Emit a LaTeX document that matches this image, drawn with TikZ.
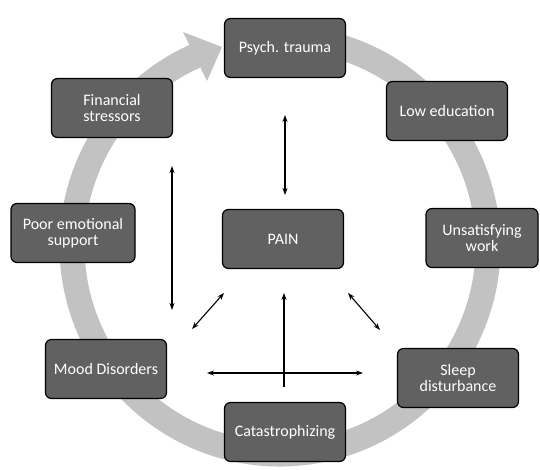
\documentclass[tikz,border=0pt]{standalone}
\usepackage{fontspec}
\setmainfont{Carlito}
\usetikzlibrary{arrows.meta}
\begin{document}
\begin{tikzpicture}[x=1pt,y=-1pt,
  factor/.style={draw=black,line width=1.2pt,fill=black!62,rounded corners=6pt,
    minimum width=121pt,minimum height=59pt,text=white,align=center,
    font=\fontsize{16}{16}\selectfont,inner sep=2pt},
  link/.style={black,line width=1.1pt},
  tipboth/.style={link,{Stealth[length=7pt,width=5pt]}-{Stealth[length=7pt,width=5pt]}},
  tipend/.style={link,-{Stealth[length=7pt,width=5pt]}},
  ring/.style={draw=black!24,line width=25pt},
  ringhead/.style={fill=black!24,draw=none}]
\useasboundingbox (0,0) rectangle (540,469);
\coordinate (c) at (280,246);
% cycle ring
\draw[ring] (c) ++(262:208) arc[start angle=262,end angle=606,radius=208];
\fill[ringhead] (183,32) -- (222,47) -- (207,81) -- cycle;
% boxes
\node[factor] (psych) at (285,48) {Psych. trauma};
\node[factor] (lowed) at (447,111) {Low education};
\node[factor,minimum width=112pt] (work) at (482,238) {Unsatisfying\\work};
\node[factor] (sleep) at (458,378) {Sleep\\disturbance};
\node[factor] (cata) at (285,432) {Catastrophizing};
\node[factor] (mood) at (106,369) {Mood Disorders};
\node[factor,minimum width=124pt] (poor) at (73,233) {Poor emotional\\support};
\node[factor] (fin) at (112,108) {Financial\\stressors};
\node[factor] (pain) at (283,239) {PAIN};
% arrow end points
\coordinate (a1) at (285,115);
\coordinate (a2) at (285,195);
\coordinate (b1) at (172,166);
\coordinate (b2) at (172,310);
\coordinate (d1) at (192,329);
\coordinate (d2) at (224,293);
\coordinate (e1) at (348,293);
\coordinate (e2) at (380,330);
\coordinate (f1) at (284,387);
\coordinate (f2) at (284,293);
\coordinate (g1) at (207,373);
\coordinate (g2) at (363,373);
\draw[tipboth] (a1) -- (a2);
\draw[tipboth] (b1) -- (b2);
\draw[tipboth] (d1) -- (d2);
\draw[tipboth] (e1) -- (e2);
\draw[tipend] (f1) -- (f2);
\draw[tipboth] (g1) -- (g2);
\end{tikzpicture}
\end{document}
